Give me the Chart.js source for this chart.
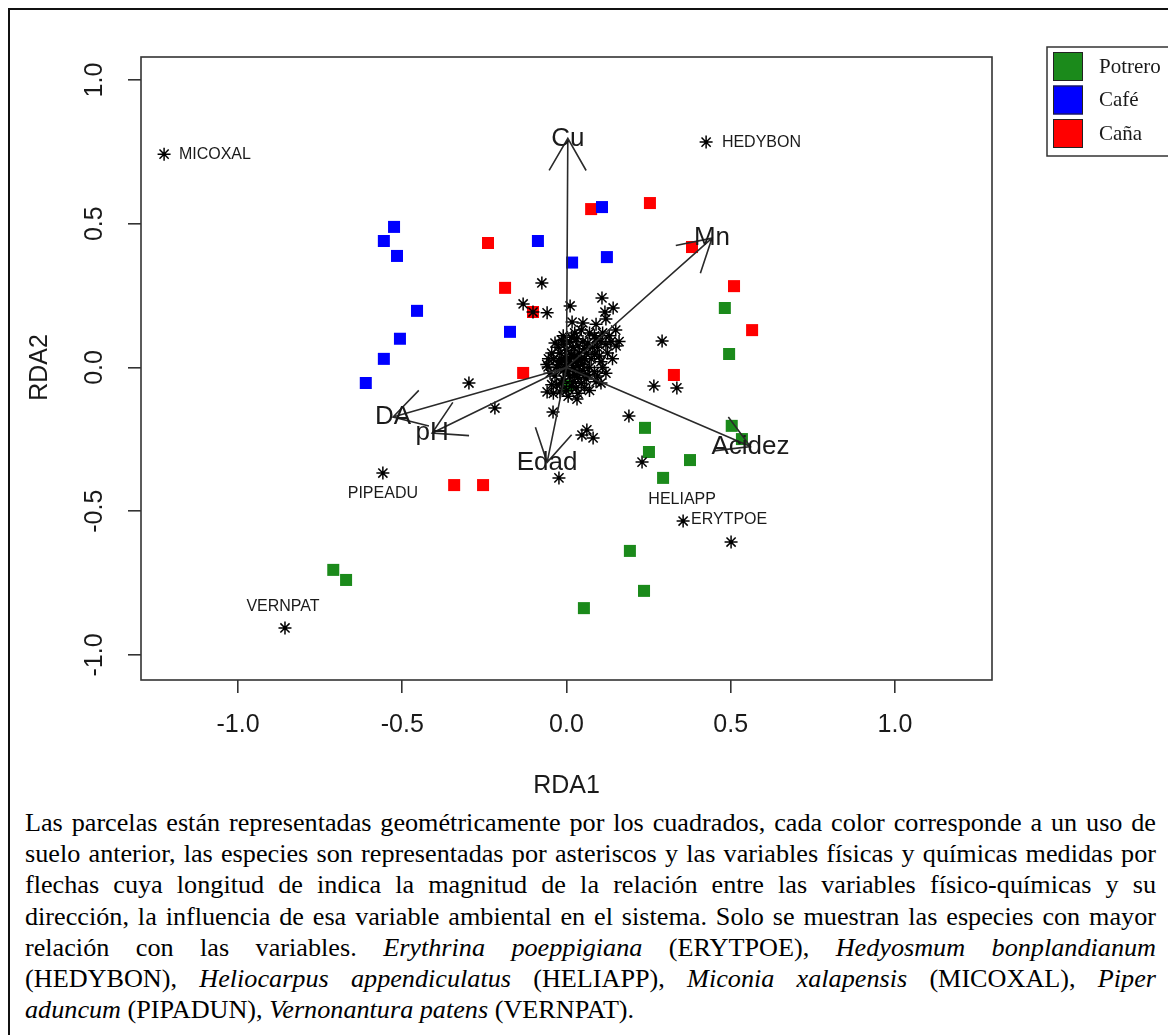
<!DOCTYPE html>
<html lang="es">
<head>
<meta charset="UTF-8" />
<title>RDA - parcelas, especies y variables</title>
<script src="https://cdn.jsdelivr.net/npm/chart.js"></script>
<style>
  body { margin: 0; background: #fff; width: 1168px; height: 1035px; overflow: hidden; position: relative; }
  #frame { position: absolute; left: 8px; top: 8px; width: 1300px; height: 1200px; border-left: 2px solid #111; border-top: 2px solid #111; }
  #rda { position: absolute; left: 0; top: 0; }
  #caption { position: absolute; left: 25px; top: 807px; width: 1131px; font-family: "Liberation Serif", "Times New Roman", serif; font-size: 26.2px; line-height: 31.2px; color: #000; }
  #caption div { white-space: nowrap; text-align: justify; text-align-last: justify; }
  #caption div.last { text-align-last: left; }
</style>
</head>
<body>
<div id="frame"></div>
<canvas id="rda" width="1168" height="800"></canvas>
<div id="caption">
  <div>Las parcelas están representadas geométricamente por los cuadrados, cada color corresponde a un uso de</div>
  <div>suelo anterior, las especies son representadas por asteriscos y las variables físicas y químicas medidas por</div>
  <div>flechas cuya longitud de indica la magnitud de la relación entre las variables físico-químicas y su</div>
  <div>dirección, la influencia de esa variable ambiental en el sistema. Solo se muestran las especies con mayor</div>
  <div>relación con las variables. <i>Erythrina poeppigiana</i> (ERYTPOE), <i>Hedyosmum bonplandianum</i></div>
  <div>(HEDYBON), <i>Heliocarpus appendiculatus</i> (HELIAPP), <i>Miconia xalapensis</i> (MICOXAL), <i>Piper</i></div>
  <div class="last"><i>aduncum</i> (PIPADUN), <i>Vernonantura patens</i> (VERNPAT).</div>
</div>
<script>
// ---- data (RDA1, RDA2) ----
const tickValues = [-1.0, -0.5, 0.0, 0.5, 1.0];

const potreroSites = [
  [0.482, 0.207], [0.495, 0.047], [0.002, -0.064], [0.239, -0.210], [0.251, -0.294],
  [0.376, -0.322], [0.294, -0.384], [0.503, -0.203], [0.534, -0.249], [0.193, -0.638],
  [0.236, -0.777], [0.053, -0.837], [-0.710, -0.704], [-0.671, -0.739]
];
const cafeSites = [
  [-0.525, 0.489], [-0.556, 0.440], [-0.516, 0.388], [-0.455, 0.197], [-0.507, 0.100],
  [-0.556, 0.030], [-0.611, -0.054], [-0.087, 0.440], [-0.172, 0.124], [0.108, 0.558],
  [0.017, 0.365], [0.123, 0.384]
];
const canaSites = [
  [-0.239, 0.433], [-0.187, 0.277], [-0.102, 0.193], [-0.132, -0.019], [0.075, 0.551],
  [0.254, 0.572], [0.382, 0.419], [0.510, 0.283], [0.565, 0.130], [0.327, -0.026],
  [-0.342, -0.409], [-0.254, -0.409]
];

// species scores (asterisks)
const speciesScores = [
  [-1.225, 0.742], [0.425, 0.784], [-0.559, -0.367], [-0.857, -0.906], [0.355, -0.534],
  [0.501, -0.607], [0.230, -0.329],
  [-0.075, 0.294], [-0.132, 0.221], [-0.102, 0.193], [-0.059, 0.190], [0.011, 0.214],
  [0.017, 0.158], [0.108, 0.242], [0.117, 0.193], [0.142, 0.207], [0.120, 0.169],
  [0.050, 0.155], [0.151, 0.075], [0.291, 0.092], [0.266, -0.064], [0.336, -0.071],
  [0.190, -0.169], [0.105, -0.054], [0.032, -0.110], [-0.059, -0.085], [-0.218, -0.141],
  [-0.041, -0.155], [-0.056, 0.002], [-0.297, -0.054], [0.047, -0.235], [0.062, -0.217],
  [0.081, -0.245], [-0.023, -0.384],
  [-0.03, 0.00], [-0.02, 0.02], [-0.01, -0.01], [0.00, 0.01], [0.01, 0.03], [0.02, 0.00],
  [0.03, 0.02], [0.01, -0.03], [-0.01, -0.04], [0.02, -0.05], [0.04, -0.02], [0.05, 0.01],
  [0.04, 0.05], [0.02, 0.07], [0.00, 0.06], [-0.02, 0.05], [-0.04, 0.03], [-0.05, -0.02],
  [-0.03, -0.06], [0.00, -0.08], [0.03, -0.07], [0.06, -0.04], [0.07, 0.00], [0.06, 0.05],
  [0.08, 0.07], [0.05, 0.09], [0.03, 0.10], [0.01, 0.09], [-0.01, 0.11], [0.10, 0.04],
  [0.09, 0.10], [0.12, 0.08], [0.11, 0.12], [0.13, 0.11], [0.15, 0.13], [0.14, 0.03],
  [0.12, -0.02], [0.09, -0.05], [0.07, -0.08], [-0.06, 0.01], [-0.04, -0.09], [0.015, 0.045],
  [-0.015, 0.025], [0.035, -0.035], [0.055, 0.03], [0.025, 0.12], [0.07, 0.12], [0.09, 0.15],
  [0.16, 0.09], [0.11, 0.00],
  [-0.025, 0.01], [-0.005, 0.035], [0.005, -0.015], [0.015, 0.015], [0.025, -0.025], [0.035, 0.005],
  [0.045, 0.025], [0.045, -0.055], [0.015, -0.065], [-0.015, -0.055], [-0.035, -0.03], [-0.045, 0.05],
  [-0.025, 0.07], [-0.005, 0.08], [0.015, 0.105], [0.035, 0.075], [0.055, 0.065], [0.065, 0.085],
  [0.075, 0.03], [0.085, 0.045], [0.095, 0.07], [0.105, 0.09], [0.085, -0.015], [0.065, -0.025],
  [0.055, -0.07], [0.035, -0.09], [0.005, -0.1], [-0.02, -0.085], [-0.045, -0.06], [-0.055, 0.03],
  [-0.035, 0.085], [-0.015, 0.095], [0.045, 0.13], [0.085, 0.11], [0.125, 0.05], [0.135, 0.09],
  [0.105, 0.02], [0.095, -0.03], [0.025, 0.04], [-0.005, -0.005], [0.05, -0.01], [0.0, 0.03]
];

// labelled species: name, label position, alignment
const speciesNames = ['MICOXAL', 'HEDYBON', 'PIPEADU', 'VERNPAT', 'HELIAPP', 'ERYTPOE'];
const speciesLabelX = [-1.180, 0.473, -0.559, -0.863, 0.352, 0.379];
const speciesLabelY = [0.739, 0.781, -0.437, -0.833, -0.461, -0.530];
const speciesLabelAlign = ['left', 'left', 'center', 'center', 'center', 'left'];

// environmental vectors
const envNames = ['Cu', 'Mn', 'Acidez', 'DA', 'pH', 'Edad'];
const envX = [0.004, 0.443, 0.560, -0.528, -0.409, -0.059];
const envY = [0.797, 0.450, -0.275, -0.172, -0.228, -0.330];

const groupNames = ['Potrero', 'Café', 'Caña'];
const groupColors = ['#1b8a1b', '#0000ff', '#ff0000'];

const toPts = arr => arr.map(p => ({ x: p[0], y: p[1] }));

const ink = '#1a1a1a';
const sansFont = '"Liberation Sans", Arial, sans-serif';

const rdaExtras = {
  id: 'rdaExtras',
  afterDatasetsDraw(chart) {
    const ctx = chart.ctx;
    const xs = chart.scales.x, ys = chart.scales.y;
    const x0 = xs.getPixelForValue(0), y0 = ys.getPixelForValue(0);
    ctx.save();
    // arrows
    ctx.strokeStyle = '#2a2a2a';
    ctx.lineWidth = 1.6;
    envNames.forEach((n, i) => {
      const tx = xs.getPixelForValue(envX[i]), ty = ys.getPixelForValue(envY[i]);
      const ang = Math.atan2(y0 - ty, x0 - tx);
      const head = 37, spread = Math.PI / 6;
      ctx.beginPath();
      ctx.moveTo(x0, y0); ctx.lineTo(tx, ty);
      ctx.moveTo(tx + head * Math.cos(ang - spread), ty + head * Math.sin(ang - spread));
      ctx.lineTo(tx, ty);
      ctx.lineTo(tx + head * Math.cos(ang + spread), ty + head * Math.sin(ang + spread));
      ctx.stroke();
    });
    // arrow labels
    ctx.fillStyle = ink;
    ctx.font = '26px ' + sansFont;
    ctx.textAlign = 'center';
    ctx.textBaseline = 'middle';
    envNames.forEach((n, i) => {
      ctx.fillText(n, xs.getPixelForValue(envX[i]), ys.getPixelForValue(envY[i]));
    });
    // species labels
    ctx.font = '16px ' + sansFont;
    speciesNames.forEach((n, i) => {
      ctx.textAlign = speciesLabelAlign[i];
      ctx.fillText(n, xs.getPixelForValue(speciesLabelX[i]), ys.getPixelForValue(speciesLabelY[i]));
    });
    ctx.restore();
  },
  afterDraw(chart) {
    const ctx = chart.ctx;
    const a = chart.chartArea;
    const ys = chart.scales.y;
    ctx.save();
    // plot box
    ctx.strokeStyle = '#333';
    ctx.lineWidth = 1.6;
    ctx.strokeRect(a.left, a.top, a.right - a.left, a.bottom - a.top);
    // y tick labels, rotated like R
    ctx.fillStyle = ink;
    ctx.font = '25px ' + sansFont;
    ctx.textAlign = 'center';
    ctx.textBaseline = 'middle';
    tickValues.forEach(v => {
      ctx.save();
      ctx.translate(95, ys.getPixelForValue(v));
      ctx.rotate(-Math.PI / 2);
      ctx.fillText(v.toFixed(1), 0, 0);
      ctx.restore();
    });
    // axis titles
    ctx.fillText('RDA1', (a.left + a.right) / 2, 786);
    ctx.save();
    ctx.translate(40, ys.getPixelForValue(0));
    ctx.rotate(-Math.PI / 2);
    ctx.fillText('RDA2', 0, 0);
    ctx.restore();
    // legend
    ctx.strokeStyle = '#333';
    ctx.lineWidth = 1.5;
    ctx.strokeRect(1047, 47, 200, 109);
    ctx.font = '21px "Liberation Serif", "Times New Roman", serif';
    ctx.textAlign = 'left';
    groupNames.forEach((g, i) => {
      const top = 52 + i * 33.5;
      ctx.fillStyle = groupColors[i];
      ctx.fillRect(1053, top, 30, 29);
      ctx.strokeStyle = '#222';
      ctx.lineWidth = 1;
      ctx.strokeRect(1053.5, top + 0.5, 29, 28);
      ctx.fillStyle = ink;
      ctx.fillText(g, 1099, top + 15);
    });
    ctx.restore();
  }
};

const siteSet = (label, data, color) => ({
  label, data: toPts(data), pointStyle: 'rect', pointRadius: 8.5, pointHoverRadius: 8.5,
  backgroundColor: color, borderColor: color, borderWidth: 0, order: 2
});

new Chart(document.getElementById('rda'), {
  type: 'scatter',
  data: {
    datasets: [
      {
        label: 'Especies', data: toPts(speciesScores), pointStyle: 'star',
        pointRadius: 6.5, pointHoverRadius: 6.5, borderColor: '#000', backgroundColor: '#000',
        borderWidth: 1.5, order: 1
      },
      siteSet(groupNames[0], potreroSites, groupColors[0]),
      siteSet(groupNames[1], cafeSites, groupColors[1]),
      siteSet(groupNames[2], canaSites, groupColors[2])
    ]
  },
  options: {
    responsive: false,
    animation: false,
    events: [],
    layout: { padding: { top: 57, right: 176, left: 0, bottom: 0 } },
    plugins: { legend: { display: false }, tooltip: { enabled: false } },
    scales: {
      x: {
        type: 'linear', min: -1.2953, max: 1.2953,
        afterBuildTicks: s => { s.ticks = tickValues.map(v => ({ value: v })); },
        afterFit: s => { s.height = 120; },
        grid: { drawOnChartArea: false, drawTicks: true, tickLength: 13, color: '#333', lineWidth: 1.6 },
        border: { display: false },
        ticks: { color: ink, font: { family: sansFont, size: 25 }, padding: 17,
                 maxRotation: 0, callback: v => v.toFixed(1) }
      },
      y: {
        type: 'linear', min: -1.087, max: 1.080,
        afterBuildTicks: s => { s.ticks = tickValues.map(v => ({ value: v })); },
        afterFit: s => { s.width = 141; },
        grid: { drawOnChartArea: false, drawTicks: true, tickLength: 13, color: '#333', lineWidth: 1.6 },
        border: { display: false },
        ticks: { display: false }
      }
    }
  },
  plugins: [rdaExtras]
});
</script>
</body>
</html>
